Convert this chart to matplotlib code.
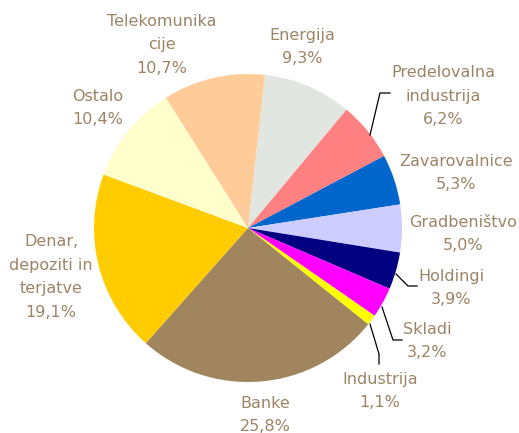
import matplotlib
matplotlib.use("Agg")
import matplotlib.pyplot as plt

# data, clockwise from the top
labels = ["Energija", "Predelovalna\nindustrija", "Zavarovalnice", "Gradbeništvo",
          "Holdingi", "Skladi", "Industrija", "Banke",
          "Denar,\ndepoziti in\nterjatve", "Ostalo", "Telekomunika\ncije"]
shares = [9.3, 6.2, 5.3, 5.0, 3.9, 3.2, 1.1, 25.8, 19.1, 10.4, 10.7]
colors = ["#E1E6E1", "#FF8080", "#0066CC", "#CCCCFF", "#000080", "#FF00FF",
          "#FFFF00", "#A0855F", "#FFCC00", "#FFFFCC", "#FFCC99"]

# label positions in pixels (x, y from top)
label_pos = [(302, 47), (443, 96), (456, 173), (463, 234), (451, 288), (427, 341),
             (380, 391), (265, 415), (51, 277), (98, 108), (162, 45)]
# leader lines in pixels
leaders = {1: [(370, 135), (380, 93), (390, 93)],
           4: [(396, 274), (408, 286), (417, 286)],
           5: [(382, 307), (393, 340), (402, 340)],
           6: [(370, 324), (379, 354), (379, 364)]}

W, H = 519, 433
txt_color = "#9C8466"

fig = plt.figure(figsize=(W / 100, H / 100), dpi=100)
ax = fig.add_axes([0, 0, 1, 1])

ax.pie(shares, colors=colors, startangle=83.7, counterclock=False,
       center=(248, H - 228), radius=154, wedgeprops=dict(linewidth=0),
       frame=True)
ax.set_xlim(0, W)
ax.set_ylim(0, H)
ax.set_aspect("equal")
ax.axis("off")

for i, (lab, val) in enumerate(zip(labels, shares)):
    x, y = label_pos[i]
    s = lab + "\n" + ("%.1f%%" % val).replace(".", ",")
    ax.text(x, H - y, s, ha="center", va="center", color=txt_color,
            fontsize=11.5, linespacing=1.7, family="DejaVu Sans")

for pts in leaders.values():
    xs = [p[0] for p in pts]
    ys = [H - p[1] for p in pts]
    ax.plot(xs, ys, color="black", lw=0.9)

fig.savefig("out.png", dpi=100)
